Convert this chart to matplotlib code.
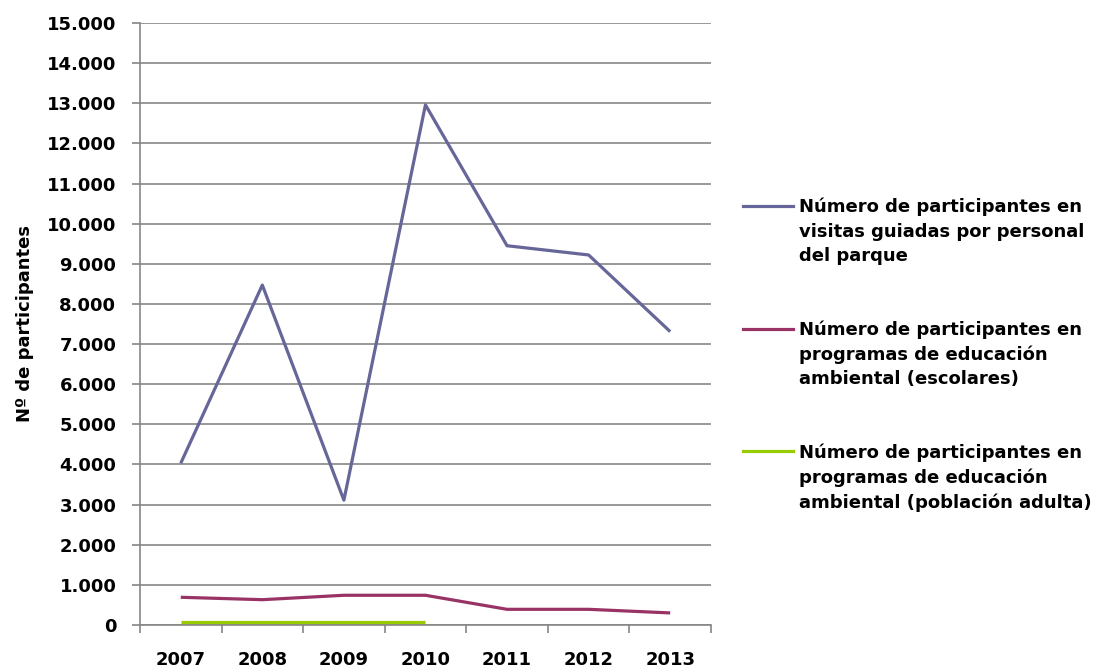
import matplotlib

matplotlib.use("Agg")
import matplotlib.pyplot as plt
from matplotlib.lines import Line2D
from matplotlib.ticker import FuncFormatter, MultipleLocator
import numpy as np

plt.rcParams["font.family"] = ["DejaVu Sans"]
plt.rcParams["font.weight"] = "bold"

YEARS = ["2007", "2008", "2009", "2010", "2011", "2012", "2013"]

VISITAS = [4030, 8470, 3110, 12960, 9450, 9220, 7310]
ESCOLARES = [690, 630, 740, 740, 390, 390, 300]
ADULTOS = [70, 70, 70, 70]

LABELS = [
    "Número de participantes en\nvisitas guiadas por personal\ndel parque",
    "Número de participantes en\nprogramas de educación\nambiental (escolares)",
    "Número de participantes en\nprogramas de educación\nambiental (población adulta)",
]
COLORS = ["#666699", "#993366", "#99CC00"]

GRID = "#868686"
FS = 13


def thousands(v, _pos):
    return f"{int(v):,}".replace(",", ".")


def main() -> None:
    fig = plt.figure(figsize=(10.96, 6.71), dpi=100)
    ax = fig.add_axes([0.1277, 0.0686, 0.5210, 0.8971])

    x = np.arange(len(YEARS))
    series = [VISITAS, ESCOLARES, ADULTOS]
    for vals, color in zip(series, COLORS):
        ax.plot(x[: len(vals)], vals, color=color, linewidth=2.3,
                solid_capstyle="butt", zorder=3)

    ax.set_xlim(-0.5, len(YEARS) - 0.5)
    ax.set_ylim(0, 15000)
    ax.yaxis.set_major_locator(MultipleLocator(1000))
    ax.yaxis.set_major_formatter(FuncFormatter(thousands))
    ax.set_xticks(np.arange(len(YEARS) + 1) - 0.5)
    ax.set_xticklabels([])
    ax.set_xticks(x, minor=True)
    ax.set_xticklabels(YEARS, minor=True, fontsize=FS, fontweight="bold")
    ax.tick_params(axis="x", which="minor", length=0, pad=19)
    ax.tick_params(axis="x", which="major", length=6, color=GRID, width=1.2)
    ax.tick_params(axis="y", length=6, color=GRID, width=1.2, labelsize=FS, pad=11)
    for lbl in ax.get_yticklabels():
        lbl.set_fontweight("bold")

    ax.grid(axis="y", color=GRID, linewidth=1.2)
    ax.set_axisbelow(True)
    for side in ("top", "right"):
        ax.spines[side].set_visible(False)
    for side in ("left", "bottom"):
        ax.spines[side].set_color(GRID)
        ax.spines[side].set_linewidth(1.2)

    ax.set_ylabel("Nº de participantes", fontsize=FS, fontweight="bold", labelpad=9)

    # legend drawn as separate entries so the line sits on the first text row
    W, H = 1096, 671
    for i, (label, color) in enumerate(zip(LABELS, COLORS)):
        y0 = 206 + i * 122.5
        fig.add_artist(Line2D([743 / W, 793 / W], [1 - y0 / H, 1 - y0 / H],
                              color=color, linewidth=2.3, transform=fig.transFigure))
        fig.text(799 / W, 1 - (y0 - 8) / H, label, fontsize=FS, fontweight="bold",
                 va="top", ha="left", linespacing=1.45)

    fig.savefig("out.png", dpi=100)
    plt.close(fig)


if __name__ == "__main__":
    main()
